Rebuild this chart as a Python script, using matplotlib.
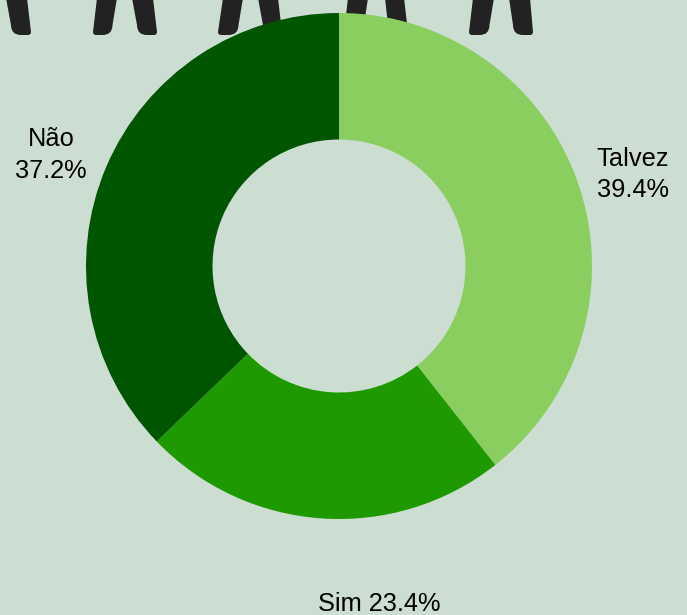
import matplotlib.pyplot as plt
from matplotlib.patches import PathPatch
from matplotlib.path import Path

plt.rcParams['font.family'] = ['Liberation Sans', 'DejaVu Sans']

W, H = 687, 615
BG = '#ccddd1'

labels = ['Talvez', 'Sim', 'Não']
values = [39.4, 23.4, 37.2]
colors = ['#8bce60', '#1f9900', '#005500']
label_pos = [(633, 174.5), (379.5, 604), (51, 155)]
label_text = ['Talvez\n39.4%', 'Sim 23.4%', 'Não\n37.2%']

# legs cut off by the top edge: top left, top right, bottom left, bottom right
# side says which way the larger rounded corner goes
legs = [
    (6, 27, 11, 31, 'left'),
    (97, 117, 93, 112.5, 'right'),
    (132, 153, 137, 157, 'left'),
    (223, 243, 218, 238.5, 'right'),
    (258, 278, 263, 282, 'left'),
    (348, 368, 344, 364, 'right'),
    (385, 404, 388, 408, 'left'),
    (473, 494, 469, 489.5, 'right'),
    (509, 530, 513, 533, 'left'),
]


def leg_path(tl, tr, bl, br, side):
    y = 35
    big, small = 10, 3
    rl, rr = (big, small) if side == 'left' else (small, big)
    verts = [(tl, -2), (tr, -2), (br, y - rr), (br, y), (br - rr, y),
             (bl + rl, y), (bl, y), (bl, y - rl), (tl, -2)]
    codes = [Path.MOVETO, Path.LINETO, Path.LINETO, Path.CURVE3, Path.CURVE3,
             Path.LINETO, Path.CURVE3, Path.CURVE3, Path.CLOSEPOLY]
    return Path(verts, codes)


fig = plt.figure(figsize=(W / 100, H / 100), dpi=100, facecolor=BG)

# pixel overlay, y runs downwards like the reference
bg_ax = fig.add_axes([0, 0, 1, 1])
bg_ax.set_xlim(0, W)
bg_ax.set_ylim(H, 0)
bg_ax.axis('off')

for leg in legs:
    bg_ax.add_patch(PathPatch(leg_path(*leg), fc='#222222', ec='none'))

# donut centred at (339, 266), outer radius 253 px
r = 253
cx, cy = 339, 266
ax = fig.add_axes([(cx - r) / W, 1 - (cy + r) / H, 2 * r / W, 2 * r / H])
ax.pie(values, colors=colors, startangle=90, counterclock=False, radius=1,
       wedgeprops=dict(width=0.5, linewidth=0))
ax.set_xlim(-1, 1)
ax.set_ylim(-1, 1)

for (x, y), t in zip(label_pos, label_text):
    bg_ax.text(x, y, t, ha='center', va='center', fontsize=18.3, color='#000000',
               linespacing=1.38)

fig.savefig('out.png', dpi=100, facecolor=BG)
